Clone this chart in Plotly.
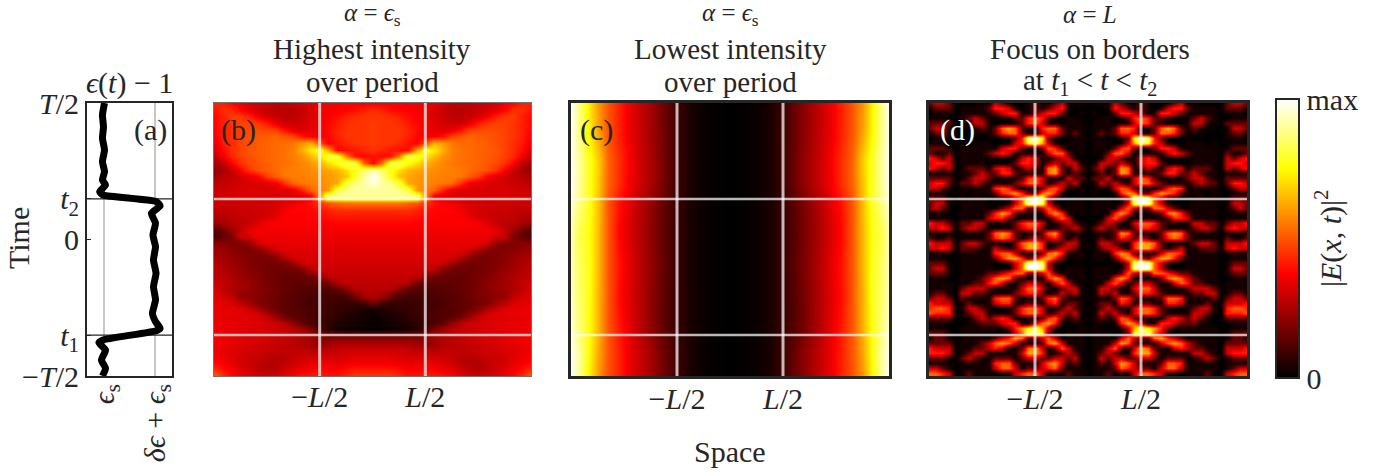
import numpy as np
import plotly.graph_objects as go

W, H = 1399, 475
SERIF = "Liberation Serif, DejaVu Serif, serif"

T1 = -0.70
T2 = 0.297

# Panel (a): permittivity against time
eps_values = [.01,-.03,-.01,-.03,.01,-.03,.01,-.03,.03,-.085,-.02,1.03,1.10,.93,1.01,.96,1.01,.97,1.02,.97,1.01,.95,1.01,1.10,1.03,-.02,-.10,.03,-.05,.03,-.03]
time_values = [1.0,.912,.826,.741,.656,.570,.497,.436,.399,.350,.326,.277,.245,.192,.119,.033,-.053,-.150,-.248,-.346,-.443,-.541,-.602,-.651,-.668,-.736,-.756,-.81,-.883,-.944,-1.0]

# Panel (b): left half of intensity, percent of max, rows from top to bottom
high_left = [
[42,42,38,35,32,30,29,28,28,29,31,33,35,36,37,37,37,37,37],
[40,44,44,38,34,31,29,28,27,27,29,32,35,36,37,38,39,42,44],
[38,42,46,46,42,36,31,29,28,28,30,32,35,37,39,42,44,45,45],
[38,42,45,47,47,45,41,34,30,30,31,33,36,38,41,44,45,45,46],
[37,42,45,47,48,49,48,47,40,34,33,34,36,39,43,45,45,45,46],
[36,42,45,47,49,50,51,52,50,48,40,36,36,38,42,45,45,45,46],
[34,41,44,47,49,51,52,53,53,55,60,64,48,37,40,43,45,45,46],
[32,39,44,47,50,51,52,53,54,56,63,72,78,62,39,39,41,43,45],
[29,36,43,47,49,51,52,53,54,56,59,65,72,80,82,56,40,38,40],
[24,28,38,44,48,50,52,53,54,55,57,60,64,70,76,84,82,52,38],
[21,25,29,37,45,49,51,53,55,56,57,58,60,62,64,70,78,86,92],
[24,27,29,31,34,38,47,51,55,56,56,57,58,60,62,66,78,90,100],
[27,29,30,31,32,32,33,36,44,53,55,56,58,60,62,80,88,92,96],
[29,30,31,32,32,32,32,32,32,34,42,52,56,60,82,88,90,90,90],
[30,31,31,32,32,32,32,32,32,32,32,36,60,88,90,90,90,90,90],
[30,30,30,30,30,30,31,31,33,35,37,40,44,50,52,54,54,54,54],
[28,28,29,30,30,31,31,33,36,38,38,38,40,42,44,44,44,44,44],
[26,27,28,29,29,30,31,34,37,37,37,38,38,40,41,41,41,41,41],
[22,24,27,28,29,33,36,37,37,37,37,37,37,37,38,38,38,38,38],
[12,17,23,28,34,36,36,36,36,36,36,36,36,36,36,36,36,36,36],
[10,14,19,30,32,35,35,35,35,35,35,35,35,35,35,35,35,35,35],
[20,20,19,18,22,31,34,34,34,34,34,34,34,34,34,34,34,34,34],
[23,22,20,19,18,20,26,32,33,33,33,33,33,33,33,33,33,33,33],
[25,24,22,20,19,18,18,21,28,32,32,32,32,32,32,32,32,32,32],
[27,25,23,21,19,18,17,17,18,23,30,31,31,31,31,31,31,31,31],
[28,26,24,22,20,18,17,16,16,16,19,27,30,30,30,30,30,30,30],
[28,27,25,23,21,19,17,16,15,15,15,16,22,28,29,29,29,29,29],
[30,29,26,24,22,20,18,16,15,14,14,14,14,17,25,28,28,28,28],
[32,28,25,23,22,20,18,16,15,14,13,12,12,12,14,20,26,27,27],
[33,31,28,22,21,19,18,16,14,13,12,11,10,10,10,11,17,24,26],
[34,33,32,28,24,19,17,15,14,13,11,10,10,9,8,8,8,10,17],
[35,34,34,33,30,26,20,16,14,13,12,11,10,9,8,7,6,4,3],
[35,34,34,33,33,32,28,22,16,13,12,11,10,8,7,5,4,3,1],
[35,34,34,33,33,32,31,30,27,21,14,11,9,7,5,4,3,2,1],
[35,34,34,33,33,32,31,30,29,28,24,18,11,6,3,2,2,1,1],
[36,35,34,33,32,32,31,30,29,28,26,25,20,18,18,18,18,18,18],
[36,35,34,33,32,31,30,29,28,27,26,23,21,23,25,25,25,25,25],
[35,34,33,32,31,30,29,29,28,28,28,26,27,27,29,30,30,30,30],
[36,35,33,31,30,30,28,27,27,29,30,30,31,31,31,32,33,33,33],
[39,36,34,31,30,28,26,26,28,30,32,34,35,35,34,35,36,36,36],
[44,39,36,33,31,28,27,27,30,33,35,37,38,37,37,39,41,41,41],
[52,44,38,34,32,30,29,31,34,37,40,41,42,40,40,43,46,46,46],
]

# Panel (c): left half of intensity, percent of max
low_columns = [-3,-2.85,-2.7,-2.5,-2.3,-2.1,-1.9,-1.7,-1.5,-1.3,-1,-.7,-.4,0]
low_times = [1,.78,.58,.41,.29,.05,-.19,-.44,-.66,-.83,-1]
low_left = [
[99,88,75,60,50,42,35,29,24,18,9,3,1,0],
[98,88,76,62,50,42,35,29,24,18,9,3,1,0],
[99,90,80,68,52,44,37,30,25,19,9,3,1,0],
[99,90,80,67,52,44,36,30,25,19,9,3,1,0],
[96,88,80,66,50,40,34,27,22,16,8,3,1,0],
[92,82,78,65,50,38,32,26,21,15,8,3,1,0],
[93,84,79,65,50,40,34,27,22,16,8,3,1,0],
[94,85,79,64,50,39,33,27,21,15,8,3,1,0],
[96,87,78,64,50,41,34,27,21,15,8,3,1,0],
[99,90,78,62,50,42,35,29,24,18,9,3,1,0],
[99,90,76,60,49,42,35,29,24,18,9,3,1,0],
]

# Panel (d): left half, as brightness codes 0-9, rows from top to bottom
focus_left = [
[2,3,3,2,0,0,0,0,1,1,3,2,1,0,0,1,2,1,1,2,3,1,1,1,0],
[1,2,2,2,0,1,1,1,1,2,4,4,3,1,0,1,2,1,2,3,4,1,0,0,0],
[0,1,1,1,0,1,1,1,1,1,2,3,4,4,1,1,2,3,4,4,2,0,0,1,0],
[1,1,1,0,0,1,2,3,2,1,0,1,1,2,2,4,5,4,2,1,0,1,1,0,0],
[2,2,2,2,0,1,1,3,3,1,0,0,0,1,2,4,5,3,1,1,0,1,1,1,0],
[2,3,3,1,0,0,1,1,2,1,2,5,6,5,2,1,1,4,5,5,2,1,1,1,0],
[1,2,2,1,0,0,0,1,1,1,2,4,5,5,2,1,1,3,4,4,2,1,2,1,0],
[0,1,1,1,0,0,0,0,0,0,0,0,1,2,4,8,9,7,2,1,0,0,1,1,0],
[1,1,1,0,0,1,0,1,1,1,0,0,1,3,4,7,8,6,3,1,0,1,1,1,0],
[2,2,2,1,0,1,1,1,1,1,1,3,4,4,2,1,1,2,5,4,2,0,1,1,0],
[2,1,1,2,0,1,1,1,1,2,3,4,3,1,1,1,1,1,3,5,5,2,0,1,0],
[4,3,2,3,0,1,1,1,1,1,1,1,0,1,3,4,3,1,1,2,3,3,1,0,0],
[3,4,4,3,0,1,1,1,1,0,0,0,0,2,4,4,3,1,2,3,2,3,3,1,0],
[4,3,2,3,0,1,2,2,2,1,3,4,3,1,2,3,2,1,5,6,2,1,3,2,0],
[1,1,1,1,0,1,1,2,3,2,2,4,4,2,1,1,1,1,5,6,2,1,2,1,0],
[2,2,2,2,0,1,2,3,3,2,1,1,1,1,2,4,5,3,1,1,1,3,2,2,0],
[3,4,4,2,0,2,2,3,2,1,1,1,1,2,3,5,5,3,1,2,3,2,3,1,0],
[3,3,2,1,0,1,1,1,1,1,4,5,4,2,1,1,1,2,4,5,3,1,1,1,0],
[1,1,1,0,0,1,0,1,1,1,2,4,5,6,4,2,2,5,6,4,1,0,0,1,0],
[2,2,2,1,0,1,1,1,1,0,0,0,1,3,5,8,9,8,3,1,0,0,0,0,0],
[2,3,3,1,0,1,1,1,1,0,0,0,1,3,5,9,9,8,3,1,0,1,1,1,0],
[2,3,2,1,0,1,1,1,1,1,1,2,3,5,5,2,2,3,5,3,1,1,1,1,0],
[1,1,1,0,0,1,1,1,1,2,4,6,5,2,1,1,1,1,4,6,4,1,0,1,0],
[1,1,1,1,0,1,1,1,1,3,4,4,2,1,1,1,1,1,1,3,5,3,0,0,0],
[4,3,3,2,0,2,2,3,3,1,0,1,1,2,4,5,5,3,1,1,2,3,2,1,0],
[3,3,4,3,0,2,3,3,2,1,1,1,1,2,3,4,4,2,1,1,2,2,3,2,0],
[1,1,1,1,0,1,1,1,1,2,5,6,5,2,1,1,1,2,5,6,2,1,1,1,0],
[2,1,1,2,0,1,1,1,1,2,4,5,4,2,1,2,3,2,3,4,2,1,2,1,0],
[4,3,3,3,0,2,3,3,2,1,0,0,0,2,5,6,6,4,1,1,2,3,3,1,0],
[3,3,4,3,0,2,2,2,1,1,3,2,1,2,4,6,6,4,1,2,3,3,2,1,0],
[1,1,1,1,0,1,1,1,1,1,4,5,5,3,1,1,1,2,5,6,4,1,1,1,0],
[1,1,1,0,0,1,1,1,1,1,2,4,6,6,4,2,3,5,6,4,2,0,1,1,0],
[2,2,2,1,0,1,1,1,1,1,0,0,1,3,5,9,9,8,3,1,0,0,0,0,0],
[2,3,3,1,0,1,1,1,1,1,0,0,1,3,5,9,9,8,3,1,0,1,1,1,0],
[2,2,2,1,0,1,1,1,1,2,2,3,4,5,5,2,2,3,5,2,1,1,1,1,0],
[1,1,1,0,0,1,1,1,2,3,5,6,5,2,1,1,1,1,4,6,4,1,1,1,0],
[1,1,1,1,0,1,1,2,2,4,5,3,1,1,2,3,3,2,1,3,5,3,1,1,0],
[1,1,1,1,0,2,3,3,3,2,1,1,1,1,3,5,5,3,1,1,2,3,3,1,0],
[1,2,2,1,0,3,3,2,2,1,1,1,1,2,3,4,4,2,1,1,3,2,3,1,0],
[2,3,3,2,0,2,1,1,1,1,4,5,5,2,1,1,1,2,4,5,2,1,1,1,0],
[4,3,3,3,0,1,2,1,1,1,3,4,4,1,1,2,2,1,3,4,1,2,2,1,0],
[4,5,5,4,0,1,3,3,2,1,0,0,1,2,4,5,5,3,1,1,2,3,2,1,0],
[5,4,4,4,0,1,2,3,3,1,1,1,1,2,4,5,5,3,1,2,3,2,3,1,0],
[2,2,2,2,0,0,1,2,3,2,3,4,3,1,1,1,1,2,4,5,2,1,2,1,0],
[1,1,1,0,0,0,1,1,2,2,2,3,4,4,1,1,3,5,6,4,1,0,1,1,0],
[1,1,1,0,0,1,1,1,1,1,1,1,2,4,6,7,8,6,3,1,0,0,0,1,0],
[2,2,2,1,0,1,1,1,1,1,0,0,1,3,5,8,8,7,2,1,0,1,1,1,0],
[1,2,2,1,0,1,1,1,1,1,2,3,4,6,5,2,2,3,5,3,1,1,1,1,0],
[2,2,2,2,0,1,1,1,2,3,5,6,5,3,1,1,1,2,5,6,3,1,1,1,0],
[4,3,3,3,0,1,1,2,2,3,4,3,1,1,2,5,6,3,1,2,5,3,1,1,0],
[4,4,4,3,0,1,2,3,3,1,0,0,1,1,3,6,6,4,1,1,2,3,2,1,0],
[2,2,2,1,0,2,3,2,1,1,2,2,2,1,2,3,3,2,2,3,3,2,3,1,0],
[1,1,1,1,0,1,1,1,1,1,4,5,5,2,1,1,1,3,5,6,3,1,2,1,0],
[3,3,2,1,0,1,1,1,1,1,3,5,5,3,1,2,2,3,4,5,2,1,1,1,0],
[5,5,4,3,0,1,2,1,1,1,0,1,1,3,4,5,5,3,1,1,1,2,1,1,0],
]
focus_levels = [0, .03, .15, .3, .42, .52, .62, .75, .88, 1]

HOT = [[0, "#000000"], [0.375, "#ff0000"], [0.75, "#ffff00"], [1, "#ffffff"]]
INK = "#262626"
OVERLAY = "rgba(255,255,255,0.72)"
SIZE = 30


def mirror(rows, convert):
    # the field is left/right symmetric, so the right half repeats the left one
    return [[convert(v) for v in row + row[-2::-1]] for row in rows]


def xdom(a, b):
    return [a / W, b / W]


def ydom(top, bottom):
    return [1 - bottom / H, 1 - top / H]


fig = go.Figure()

boxes = {"": (87, 172), "2": (214, 531), "3": (571, 889), "4": (929, 1247)}
for key, (a, b) in boxes.items():
    thick = {"": 2, "2": 1, "3": 2.5, "4": 2.5}[key]
    col = "#707070" if key == "2" else INK
    fig.layout["xaxis" + key] = dict(domain=xdom(a, b), anchor="y" + key, mirror=True,
                                     showline=True, linecolor=col, linewidth=thick,
                                     showgrid=False, zeroline=False, ticks="", color=INK,
                                     ticklabelstandoff=-6,
                                     tickfont=dict(family=SERIF, size=SIZE, color=INK))
    fig.layout["yaxis" + key] = dict(domain=ydom(103, 376), anchor="x" + key, mirror=True,
                                     showline=True, linecolor=col, linewidth=thick,
                                     showgrid=False, zeroline=False, ticks="",
                                     range=[-1, 1], showticklabels=False,
                                     tickfont=dict(family=SERIF, size=SIZE, color=INK))

# Panel (a)
fig.layout.xaxis.update(range=[-0.333, 1.333], tickvals=[0, 1], tickangle=-90,
                        ticktext=["<i>ϵ</i><sub>s</sub>", "<i>δϵ</i> + <i>ϵ</i><sub>s</sub>"])
fig.layout.yaxis.update(tickvals=[-1, T1, 0, T2, 1], showticklabels=True, ticks="inside",
                        ticklen=4, tickcolor=INK,
                        ticktext=["−<i>T</i>/2", "<i>t</i><sub>1</sub>", "0", "<i>t</i><sub>2</sub>", "<i>T</i>/2"])
for v in (0, 1):
    fig.add_shape(type="line", xref="x", yref="y", x0=v, x1=v, y0=-1, y1=1,
                  line=dict(color="#b4b4b4", width=1.5), layer="below")
for v in (T1, T2):
    fig.add_shape(type="line", xref="x", yref="y", x0=-0.333, x1=1.333, y0=v, y1=v,
                  line=dict(color=INK, width=1.2), layer="below")
fig.add_trace(go.Scatter(x=eps_values, y=time_values, mode="lines", xaxis="x", yaxis="y",
                         line=dict(color="black", width=7, shape="spline", smoothing=0.5),
                         hoverinfo="skip", showlegend=False))

# Panels (b), (c), (d)
fig.add_trace(go.Heatmap(z=mirror(high_left, lambda v: v / 100)[::-1], x=np.linspace(-3, 3, 37),
                         y=np.linspace(1, -1.0, len(high_left))[::-1],
                         coloraxis="coloraxis", zsmooth="best", xaxis="x2", yaxis="y2"))
fig.add_trace(go.Heatmap(z=mirror(low_left, lambda v: v / 100)[::-1],
                         x=low_columns + [-v for v in low_columns[-2::-1]],
                         y=low_times[::-1],
                         coloraxis="coloraxis", zsmooth="best", xaxis="x3", yaxis="y3"))
fig.add_trace(go.Heatmap(z=mirror(focus_left, lambda v: focus_levels[v])[::-1], x=np.linspace(-3, 3, 49),
                         y=np.linspace(1, -0.98, len(focus_left))[::-1],
                         coloraxis="coloraxis", zsmooth="best", xaxis="x4", yaxis="y4"))

for key in ("2", "3", "4"):
    fig.layout["xaxis" + key].update(range=[-3, 3], tickvals=[-1, 1],
                                     ticktext=["−<i>L</i>/2", "<i>L</i>/2"])
    for v in (-1, 1):
        fig.add_shape(type="line", xref="x" + key, yref="y" + key, x0=v, x1=v, y0=-1, y1=1,
                      line=dict(color=OVERLAY, width=3))
    for v in (T1, T2):
        fig.add_shape(type="line", xref="x" + key, yref="y" + key, x0=-3, x1=3, y0=v, y1=v,
                      line=dict(color=OVERLAY, width=2.5))

fig.update_layout(coloraxis=dict(
    cmin=0, cmax=1, colorscale=HOT,
    colorbar=dict(x=1276 / W, xanchor="left", xpad=0, ypad=0, thickness=23, thicknessmode="pixels",
                  y=1 - 378 / H, yanchor="bottom", len=279 / H, lenmode="fraction",
                  outlinecolor=INK, outlinewidth=2, ticks="", tickvals=[0, 1], ticktext=["0", "max"],
                  tickfont=dict(family=SERIF, size=SIZE, color=INK))))


def text(x, y, s, size=SIZE, color=INK, angle=0):
    fig.add_annotation(xref="paper", yref="paper", x=x / W, y=1 - y / H, text=s, showarrow=False,
                       textangle=angle, xanchor="center", yanchor="middle",
                       font=dict(family=SERIF, size=size, color=color))


titles = [
    (372, ["<i>α</i> = <i>ϵ</i><sub>s</sub>", "Highest intensity", "over period"]),
    (730, ["<i>α</i> = <i>ϵ</i><sub>s</sub>", "Lowest intensity", "over period"]),
    (1090, ["<i>α</i> = <i>L</i>", "Focus on borders", "at <i>t</i><sub>1</sub> &lt; <i>t</i> &lt; <i>t</i><sub>2</sub>"]),
]
for x, lines in titles:
    text(x, 15, lines[0], size=25)
    text(x, 49, lines[1], size=29)
    text(x, 82, lines[2], size=29)
text(129, 83, "<i>ϵ</i>(<i>t</i>) − 1")
text(150, 130, "(a)")
text(238, 130, "(b)")
text(596, 130, "(c)")
text(957, 130, "(d)", color="white")
text(18, 238, "Time", angle=-90)
text(730, 451, "Space")
text(1328, 238, "|<i>E</i>(<i>x</i>, <i>t</i>)|<sup>2</sup>", angle=-90)

fig.update_layout(width=W, height=H, margin=dict(l=0, r=0, t=0, b=0, autoexpand=False),
                  paper_bgcolor="white", plot_bgcolor="white", showlegend=False)

fig.write_html("out.html", config={"displayModeBar": False},
               post_script="document.body.style.margin='0';document.body.style.overflow='hidden';")
